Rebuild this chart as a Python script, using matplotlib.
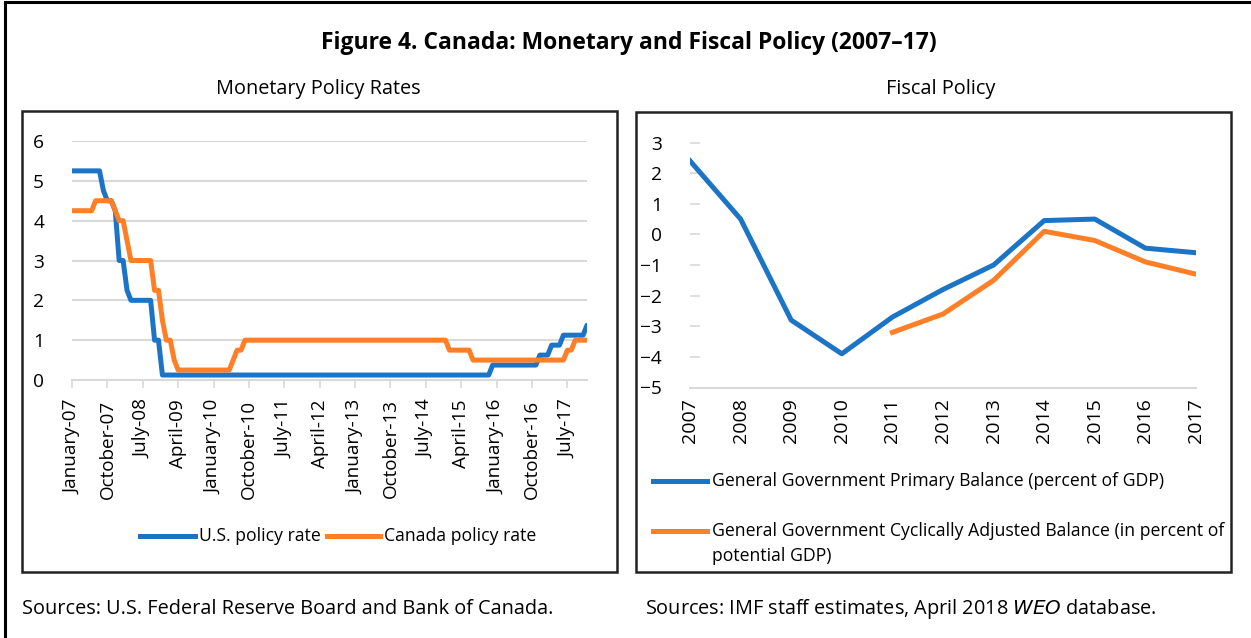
import matplotlib
matplotlib.use("Agg")
import matplotlib.pyplot as plt
from matplotlib.lines import Line2D
import numpy as np

plt.rcParams['font.family'] = ['Open Sans', 'DejaVu Sans']

W, H = 1251, 638
DPI = 100

# ---------------- data ----------------
# Monthly policy rates, January 2007 - December 2017
us_rate = (
    [5.25, 5.25, 5.25, 5.25, 5.25, 5.25, 5.25, 5.25, 4.75, 4.5, 4.5, 4.25] +      # 2007
    [3.0, 3.0, 2.25, 2.0, 2.0, 2.0, 2.0, 2.0, 2.0, 1.0, 1.0, 0.125] +             # 2008
    [0.125] * 12 + [0.125] * 12 + [0.125] * 12 + [0.125] * 12 +                   # 2009-2012
    [0.125] * 12 + [0.125] * 12 +                                                 # 2013-2014
    [0.125] * 11 + [0.375] +                                                      # 2015
    [0.375] * 11 + [0.625] +                                                      # 2016
    [0.625, 0.625, 0.875, 0.875, 0.875, 1.125, 1.125, 1.125, 1.125, 1.125, 1.125, 1.375]  # 2017
)
canada_rate = (
    [4.25, 4.25, 4.25, 4.25, 4.25, 4.25, 4.5, 4.5, 4.5, 4.5, 4.5, 4.25] +         # 2007
    [4.0, 4.0, 3.5, 3.0, 3.0, 3.0, 3.0, 3.0, 3.0, 2.25, 2.25, 1.5] +              # 2008
    [1.0, 1.0, 0.5, 0.25, 0.25, 0.25, 0.25, 0.25, 0.25, 0.25, 0.25, 0.25] +       # 2009
    [0.25, 0.25, 0.25, 0.25, 0.25, 0.5, 0.75, 0.75, 1.0, 1.0, 1.0, 1.0] +         # 2010
    [1.0] * 12 + [1.0] * 12 + [1.0] * 12 + [1.0] * 12 +                           # 2011-2014
    [0.75, 0.75, 0.75, 0.75, 0.75, 0.75, 0.5, 0.5, 0.5, 0.5, 0.5, 0.5] +          # 2015
    [0.5] * 12 +                                                                  # 2016
    [0.5, 0.5, 0.5, 0.5, 0.5, 0.5, 0.75, 0.75, 1.0, 1.0, 1.0, 1.0]                # 2017
)
month_labels = ["January-07", "October-07", "July-08", "April-09", "January-10",
                "October-10", "July-11", "April-12", "January-13", "October-13",
                "July-14", "April-15", "January-16", "October-16", "July-17"]

years = [2007, 2008, 2009, 2010, 2011, 2012, 2013, 2014, 2015, 2016, 2017]
primary_balance = [2.4, 0.5, -2.8, -3.9, -2.7, -1.8, -1.0, 0.45, 0.5, -0.45, -0.6]
cab_years = [2011, 2012, 2013, 2014, 2015, 2016, 2017]
cyclically_adjusted = [-3.2, -2.6, -1.5, 0.1, -0.2, -0.9, -1.3]

BLUE = '#1c74c6'
ORANGE = '#ff7f27'
GRID = '#d9d9d9'
TXT = '#000000'

fig = plt.figure(figsize=(W / DPI, H / DPI), dpi=DPI)
fig.patch.set_facecolor('white')


def fx(x):
    return x / W


def fy(y):
    return 1 - y / H


def rect(x0, y0, x1, y1):
    return [fx(x0), fy(y1), fx(x1) - fx(x0), fy(y0) - fy(y1)]


# outer frame (left and top)
fig.add_artist(Line2D([fx(5), fx(5)], [fy(638), fy(2)], color='black', lw=2.2))
fig.add_artist(Line2D([fx(5), fx(1251)], [fy(2), fy(2)], color='black', lw=2.2))

# panel boxes
for (x0, y0, x1, y1) in [(22, 111, 617, 572), (636, 112, 1231, 572)]:
    fig.add_artist(plt.Rectangle((fx(x0), fy(y1)), fx(x1) - fx(x0), fy(y0) - fy(y1),
                                 fill=False, edgecolor='#222222', lw=1.8,
                                 transform=fig.transFigure))

# titles
fig.text(fx(629), fy(43), "Figure 4. Canada: Monetary and Fiscal Policy (2007\u201317)",
         ha='center', va='center', fontsize=16.5, fontweight='bold', color=TXT)
fig.text(fx(318), fy(89), "Monetary Policy Rates", ha='center', va='center',
         fontsize=14.3, color=TXT)
fig.text(fx(941), fy(89), "Fiscal Policy", ha='center', va='center',
         fontsize=14.3, color=TXT)

# ---------------- left chart ----------------
axL = fig.add_axes(rect(72, 141, 587, 380))
months = np.arange(len(us_rate))
axL.plot(months, us_rate, color=BLUE, lw=3.6, solid_joinstyle='round', solid_capstyle='round')
axL.plot(months, canada_rate, color=ORANGE, lw=3.6, solid_joinstyle='round', solid_capstyle='round')
axL.set_xlim(0, len(us_rate) - 1)
axL.set_ylim(0, 6)
axL.set_yticks(range(0, 7))
axL.yaxis.grid(True, color=GRID, lw=1.5)
axL.set_axisbelow(True)
for s in ['top', 'right', 'left']:
    axL.spines[s].set_visible(False)
axL.spines['bottom'].set_color(GRID)
axL.spines['bottom'].set_linewidth(1.5)
axL.set_xticks(np.arange(0, len(us_rate), 9))
axL.set_xticklabels(month_labels, rotation=90, fontsize=13.6)
axL.tick_params(axis='x', length=6, width=1.2, color=GRID, pad=8)
axL.tick_params(axis='y', length=0, pad=20, labelsize=13.8)

# left legend
fig.add_artist(Line2D([fx(140), fx(195)], [fy(536), fy(536)], color=BLUE, lw=3.6))
fig.text(fx(199), fy(536), "U.S. policy rate", ha='left', va='center', fontsize=12.7)
fig.add_artist(Line2D([fx(327), fx(380)], [fy(536), fy(536)], color=ORANGE, lw=3.6))
fig.text(fx(384), fy(536), "Canada policy rate", ha='left', va='center', fontsize=12.7)

# ---------------- right chart ----------------
axR = fig.add_axes(rect(690, 142.5, 1196, 387.5))
axR.plot(years, primary_balance, color=BLUE, lw=3.6, solid_joinstyle='round')
axR.plot(cab_years, cyclically_adjusted, color=ORANGE, lw=3.6, solid_joinstyle='round')
axR.set_xlim(2007, 2017)
axR.set_ylim(-5, 3)
axR.set_yticks(range(-5, 4))
axR.set_xticks(years)
axR.set_xticklabels([str(y) for y in years], rotation=90, fontsize=14)
for s in ['top', 'right', 'left']:
    axR.spines[s].set_visible(False)
axR.spines['bottom'].set_color(GRID)
axR.spines['bottom'].set_linewidth(1.5)
axR.tick_params(axis='x', length=0, pad=8)
axR.tick_params(axis='y', direction='in', length=7, width=1.2, color=GRID, pad=20, labelsize=13.8)

# right legend
fig.add_artist(Line2D([fx(653), fx(707)], [fy(481), fy(481)], color=BLUE, lw=3.6))
fig.text(fx(712), fy(481), "General Government Primary Balance (percent of GDP)",
         ha='left', va='center', fontsize=12.7)
fig.add_artist(Line2D([fx(653), fx(707)], [fy(531), fy(531)], color=ORANGE, lw=3.6))
fig.text(fx(712), fy(531), "General Government Cyclically Adjusted Balance (in percent of",
         ha='left', va='center', fontsize=12.7)
fig.text(fx(712), fy(556), "potential GDP)", ha='left', va='center', fontsize=12.7)

# sources
fig.text(fx(22), fy(609), "Sources: U.S. Federal Reserve Board and Bank of Canada.",
         ha='left', va='center', fontsize=14.3)
fig.text(fx(645), fy(609), "Sources: IMF staff estimates, April 2018 $\\it{WEO}$ database.",
         ha='left', va='center', fontsize=14.3)

fig.savefig("out.png", dpi=DPI, facecolor='white')
